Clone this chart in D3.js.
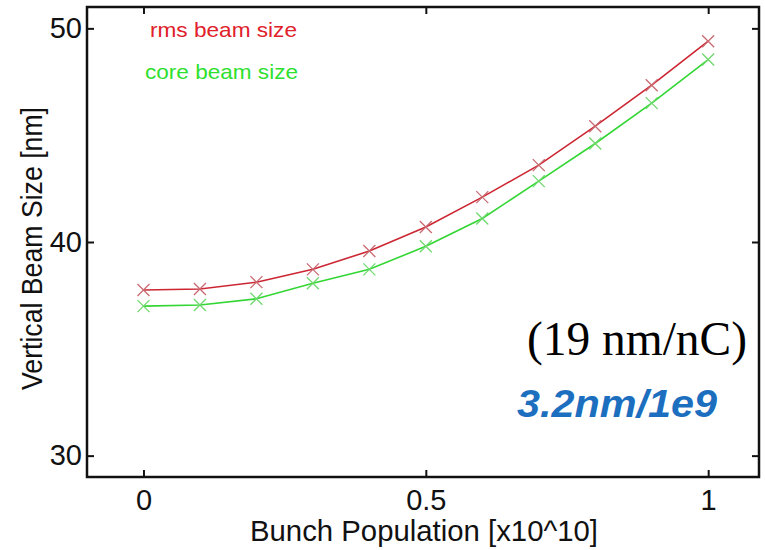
<!DOCTYPE html>
<html>
<head>
<style>
html, body {
    margin: 0;
    padding: 0;
    background: #fff;
    overflow: hidden;
}
</style>
</head>
<body>
<script src="https://d3js.org/d3.v7.min.js"></script>
<script>
// bunch population (x10^10) and beam sizes
const population = [0, 0.1, 0.2, 0.3, 0.4, 0.5, 0.6, 0.7, 0.8, 0.9, 1.0];
const rmsSize = [37.75, 37.8, 38.12, 38.72, 39.58, 40.7, 42.1, 43.6, 45.42, 47.34, 49.4];
const coreSize = [37.0, 37.05, 37.34, 38.07, 38.72, 39.8, 41.1, 42.85, 44.61, 46.5, 48.54];
const xTicks = [0, 0.5, 1];
const yTicks = [30, 40, 50];

const [width, height] = [765, 550];
const margin = {top: 7, right: 6, bottom: 73, left: 87};
const sans = "'Liberation Sans', Arial, sans-serif";

const svg = d3.select("body").append("svg")
    .attr("width", width)
    .attr("height", height)
    .style("font-family", sans);

const x = d3.scaleLinear()
    .domain([-0.1, 1.09])
    .range([margin.left, width - margin.right]);

const y = d3.scaleLinear()
    .domain([29, 51])
    .range([height - margin.bottom, margin.top]);

const plotW = width - margin.right - margin.left;
const plotH = height - margin.bottom - margin.top;

// inward ticks on all four sides, matlab style
svg.append("g")
    .attr("transform", `translate(0,${height - margin.bottom})`)
    .call(d3.axisBottom(x).tickValues(xTicks).tickFormat(d3.format("")).tickSizeInner(-7).tickSizeOuter(0).tickPadding(12))
    .call(g => g.select(".domain").remove())
    .call(g => g.selectAll("text").attr("font-size", 29).attr("fill", "#111").style("font-family", sans));

svg.append("g")
    .attr("transform", `translate(0,${margin.top})`)
    .call(d3.axisTop(x).tickValues(xTicks).tickFormat("").tickSizeInner(-7).tickSizeOuter(0))
    .call(g => g.select(".domain").remove());

svg.append("g")
    .attr("transform", `translate(${margin.left},0)`)
    .call(d3.axisLeft(y).tickValues(yTicks).tickFormat(d3.format("d")).tickSizeInner(-7).tickSizeOuter(0).tickPadding(5))
    .call(g => g.select(".domain").remove())
    .call(g => g.selectAll("text").attr("font-size", 29).attr("fill", "#111").style("font-family", sans));

svg.append("g")
    .attr("transform", `translate(${width - margin.right},0)`)
    .call(d3.axisRight(y).tickValues(yTicks).tickFormat("").tickSizeInner(-7).tickSizeOuter(0))
    .call(g => g.select(".domain").remove());

svg.selectAll(".tick line").attr("stroke", "#111").attr("stroke-width", 2);

svg.append("rect")
    .attr("x", margin.left)
    .attr("y", margin.top)
    .attr("width", plotW)
    .attr("height", plotH)
    .attr("fill", "none")
    .attr("stroke", "#111")
    .attr("stroke-width", 2.5);

const series = [
    {name: "rms", values: rmsSize, line: "#cc2633", mark: "#c96a72"},
    {name: "core", values: coreSize, line: "#33d633", mark: "#6fd96f"}
];

const line = d3.line()
    .x((d, i) => x(population[i]))
    .y(d => y(d));

series.forEach(s => {
    svg.append("path")
        .datum(s.values)
        .attr("fill", "none")
        .attr("stroke", s.line)
        .attr("stroke-width", 1.6)
        .attr("d", line);

    const m = 6;
    svg.append("g")
        .selectAll("path")
        .data(s.values)
        .join("path")
            .attr("fill", "none")
            .attr("stroke", s.mark)
            .attr("stroke-width", 1.3)
            .attr("d", (d, i) => {
                const cx = x(population[i]), cy = y(d);
                return `M${cx - m},${cy - m}L${cx + m},${cy + m}M${cx - m},${cy + m}L${cx + m},${cy - m}`;
            });
});

// legend text
svg.append("text")
    .attr("x", 150).attr("y", 37)
    .attr("font-size", 21)
    .attr("textLength", 147)
    .attr("lengthAdjust", "spacingAndGlyphs")
    .attr("fill", "#e0202a")
    .text("rms beam size");

svg.append("text")
    .attr("x", 145).attr("y", 79)
    .attr("font-size", 21)
    .attr("textLength", 153)
    .attr("lengthAdjust", "spacingAndGlyphs")
    .attr("fill", "#2ee02e")
    .text("core beam size");

// axis labels
svg.append("text")
    .attr("x", 250).attr("y", 541)
    .attr("font-size", 29)
    .attr("textLength", 348)
    .attr("lengthAdjust", "spacingAndGlyphs")
    .attr("fill", "#111")
    .text("Bunch Population [x10^10]");

svg.append("text")
    .attr("transform", "translate(42,390) rotate(-90)")
    .attr("font-size", 29)
    .attr("textLength", 283)
    .attr("lengthAdjust", "spacingAndGlyphs")
    .attr("fill", "#111")
    .text("Vertical Beam Size [nm]");

// annotations
svg.append("text")
    .attr("x", 527).attr("y", 355)
    .style("font-family", "'Liberation Serif', 'Times New Roman', serif")
    .attr("font-size", 48)
    .attr("textLength", 220)
    .attr("lengthAdjust", "spacingAndGlyphs")
    .attr("fill", "#000")
    .text("(19 nm/nC)");

svg.append("text")
    .attr("x", 517).attr("y", 417)
    .attr("font-size", 38)
    .attr("font-weight", "bold")
    .attr("font-style", "italic")
    .attr("textLength", 200)
    .attr("lengthAdjust", "spacingAndGlyphs")
    .attr("fill", "#1c6fbf")
    .text("3.2nm/1e9");
</script>
</body>
</html>
